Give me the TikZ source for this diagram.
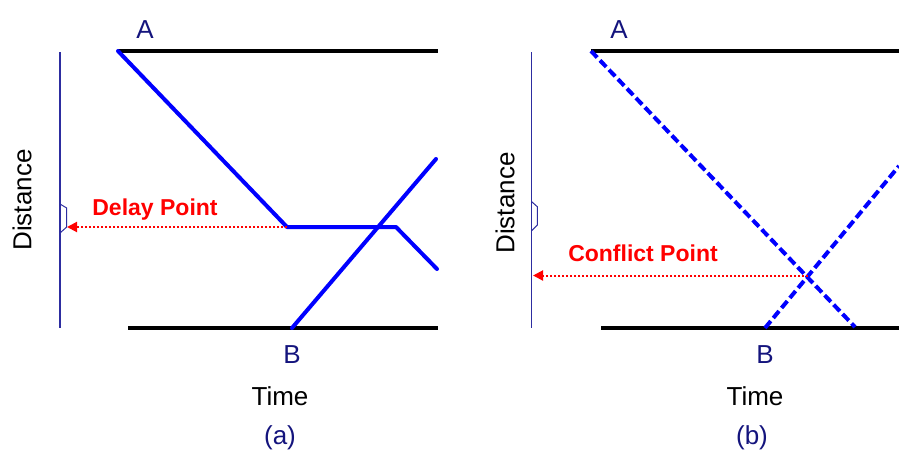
\documentclass[tikz,border=0pt]{standalone}
\usepackage{fontspec}
\setmainfont{Liberation Sans}
\usetikzlibrary{arrows.meta,positioning}
\definecolor{pathblue}{RGB}{0,0,255}
\definecolor{axisnavy}{RGB}{45,45,160}
\definecolor{labelnavy}{RGB}{20,20,125}
\definecolor{pointred}{RGB}{255,0,0}

\begin{document}
\begin{tikzpicture}[
  x=0.5pt, y=-0.5pt,
  trackline/.style={
    draw=black,
    line width=2pt
  },
  trainpath/.style={
    draw=pathblue,
    line width=2pt,
    line join=round,
    line cap=round
  },
  dashpath/.style={
    trainpath,
    line cap=butt,
    dash pattern=on 4.5pt off 2pt
  },
  axisline/.style={
    draw=axisnavy,
    line width=0.7pt
  },
  pointarrow/.style={
    draw=pointred,
    line width=1pt,
    dash pattern=on 1pt off 1pt,
    -{Triangle[length=5pt,width=5pt]}
  },
  stationlabel/.style={
    text=labelnavy,
    font=\fontsize{13}{15}\selectfont
  },
  axislabel/.style={
    font=\fontsize{13}{15}\selectfont
  },
  pointlabel/.style={
    text=pointred,
    font=\fontsize{11.5}{14}\selectfont\bfseries
  }
]
\useasboundingbox (0,0) rectangle (899,455);

% (a) delay
\coordinate (aAxisTop) at (60,52);
\coordinate (aAxisBot) at (60,328);
\coordinate (aTopL) at (118,51);
\coordinate (aTopR) at (438,51);
\coordinate (aBotL) at (128,328);
\coordinate (aBotR) at (438,328);
\coordinate (aStop) at (287,227);
\coordinate (aGo) at (396,227);
\coordinate (aEnd) at (437,269);
\coordinate (aBStart) at (292,328);
\coordinate (aBEnd) at (436,159);
\coordinate (aMark) at (67,227);

\draw[axisline] (aAxisTop) -- (aAxisBot);
\draw[axisline,line width=0.5pt] (60,204) -- (66.7,208) -- (66.7,227) -- (60,233);
\draw[trackline] (aTopL) -- (aTopR);
\draw[trackline] (aBotL) -- (aBotR);
\draw[trainpath] (aTopL) -- (aStop) -- (aGo) -- (aEnd);
\draw[trainpath] (aBStart) -- (aBEnd);
\draw[pointarrow] (aStop) -- (aMark);

\node[stationlabel] (aA) at (145,30) {A};
\node[stationlabel] (aB) at (292,355) {B};
\node[axislabel] (aTime) at (280,396) {Time};
\node[stationlabel] (aCap) at (280,438) {(a)};
\node[axislabel,rotate=90] (aDist) at (22,200) {Distance};
\node[pointlabel] (aDelay) at (155,210) {Delay Point};

% (b) conflict
\coordinate (bAxisTop) at (531.7,52);
\coordinate (bAxisBot) at (531.7,328);
\coordinate (bTopL) at (591,51);
\coordinate (bTopR) at (899,51);
\coordinate (bBotL) at (601,328);
\coordinate (bBotR) at (899,328);
\coordinate (bAEnd) at (855,327);
\coordinate (bBStart) at (765,328);
\coordinate (bBEnd) at (899,166);
\coordinate (bCross) at (808,275.5);
\coordinate (bMark) at (533,275.5);

\draw[axisline] (bAxisTop) -- (bAxisBot);
\draw[axisline,line width=0.5pt] (531.7,201.7) -- (537.3,206.7) -- (537.3,225) -- (531.7,230.7);
\draw[trackline] (bTopL) -- (bTopR);
\draw[trackline] (bBotL) -- (bBotR);
\draw[dashpath] (bTopL) -- (bAEnd);
\draw[dashpath] (bBStart) -- (bBEnd);
\draw[pointarrow] (bCross) -- (bMark);

\node[stationlabel] (bA) at (619,30) {A};
\node[stationlabel] (bB) at (765,355) {B};
\node[axislabel] (bTime) at (755,396) {Time};
\node[stationlabel] (bCap) at (752,438) {(b)};
\node[axislabel,rotate=90] (bDist) at (505,203) {Distance};
\node[pointlabel] (bConflict) at (643,253.5) {Conflict Point};
\end{tikzpicture}
\end{document}
